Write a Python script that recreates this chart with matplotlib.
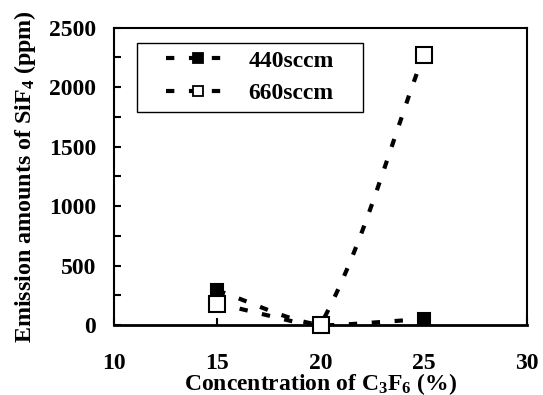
import numpy as np
import matplotlib
matplotlib.use("Agg")
import matplotlib.pyplot as plt
from matplotlib.ticker import MultipleLocator
from matplotlib.patches import Rectangle

conc = [15, 20, 25]
s440 = [290, 0, 50]
s660 = [180, 0, 2270]
labels = ["440sccm", "660sccm"]

plt.rcParams['font.family'] = 'Liberation Serif'
plt.rcParams['font.weight'] = 'bold'
plt.rcParams['mathtext.fontset'] = 'custom'
plt.rcParams['mathtext.rm'] = 'Liberation Serif:bold'
plt.rcParams['mathtext.it'] = 'Liberation Serif:bold'
plt.rcParams['mathtext.bf'] = 'Liberation Serif:bold'

W, H = 543, 395
fig = plt.figure(figsize=(W / 100, H / 100), dpi=100)
ax = fig.add_axes([114 / W, 1 - 325 / H, 413 / W, 297.5 / H])
ax.set_xlim(10, 30)
ax.set_ylim(0, 2500)


def smooth(x, y, n=100):
    # spreadsheet-style smoothed line: Bezier segments; tangent direction
    # weighted toward the longer neighbouring chord (display space),
    # handle lengths scaled by the data-space chord proportions
    dat = np.column_stack([x, y]).astype(float)
    p = ax.transData.transform(dat)
    m = len(p)
    tan, lin, lout = [None] * m, [None] * m, [None] * m
    for i in range(1, m - 1):
        a = p[i] - p[i - 1]; b = p[i + 1] - p[i]
        da = np.linalg.norm(a); db = np.linalg.norm(b)
        d = db * b + da * a
        tan[i] = d / np.linalg.norm(d)
        ra = np.linalg.norm(dat[i] - dat[i - 1]); rb = np.linalg.norm(dat[i + 1] - dat[i])
        lin[i] = da / 3 * min(1.0, 2 * ra / (ra + rb))
        lout[i] = db / 3 * min(1.0, 2 * rb / (ra + rb))
    t = np.linspace(0, 1, n)[:, None]
    out = []
    for i in range(m - 1):
        p1, p2 = p[i], p[i + 1]
        c1 = p1 + (p2 - p1) / 3 if tan[i] is None else p1 + tan[i] * lout[i]
        c2 = p2 - (p2 - p1) / 3 if tan[i + 1] is None else p2 - tan[i + 1] * lin[i + 1]
        b = (1 - t) ** 3 * p1 + 3 * (1 - t) ** 2 * t * c1 + 3 * (1 - t) * t ** 2 * c2 + t ** 3 * p2
        out.append(b)
    out = ax.transData.inverted().transform(np.vstack(out))
    return out[:, 0], out[:, 1]


dash = (0, (2.0, 3.5))
handles = []
for y, lab, fc, ms in [(s440, labels[0], 'black', 9), (s660, labels[1], 'white', 11.5)]:
    sx, sy = smooth(conc, y)
    ax.plot(sx, sy, color='black', lw=3, ls=dash, zorder=2)
    ax.plot(conc, y, ls='none', marker='s', ms=ms, mfc=fc, mec='black', mew=1.5,
            zorder=3, clip_on=False)
    h, = ax.plot([], [], color='black', lw=3, ls=dash, marker='s', ms=7.5, mfc=fc,
                 mec='black', mew=1.3, label=lab)
    handles.append(h)

ax.xaxis.set_major_locator(MultipleLocator(5))
ax.yaxis.set_major_locator(MultipleLocator(500))
ax.yaxis.set_minor_locator(MultipleLocator(250))
ax.tick_params(axis='x', direction='in', length=5, width=1.5, labelsize=17, pad=20)
ax.tick_params(axis='y', which='both', direction='in', length=5, width=1.5, labelsize=17, pad=13)
for s in ax.spines.values():
    s.set_linewidth(1.5)
ax.spines['bottom'].set_linewidth(2)

ax.set_xlabel(r'Concentration of C$_{\mathregular{3}}$F$_{\mathregular{6}}$ (%)', fontsize=17,
              fontweight='bold', labelpad=-2)
ax.set_ylabel(r'Emission amounts of SiF$_{\mathregular{4}}$ (ppm)', fontsize=17.3,
              fontweight='bold', labelpad=8)

# legend box
fig.patches.append(Rectangle((137 / W, 1 - 112 / H), 226 / W, 69 / H, transform=fig.transFigure,
                             fill=False, edgecolor='black', lw=1.0, zorder=5))
leg = ax.legend(handles=handles, loc='upper left', bbox_to_anchor=(166 / W, 1 - 50 / H),
                bbox_transform=fig.transFigure, fontsize=17, frameon=False,
                handlelength=2.7, handletextpad=0.8, borderpad=0, labelspacing=0.48,
                borderaxespad=0)

fig.savefig('out.png', dpi=100)
